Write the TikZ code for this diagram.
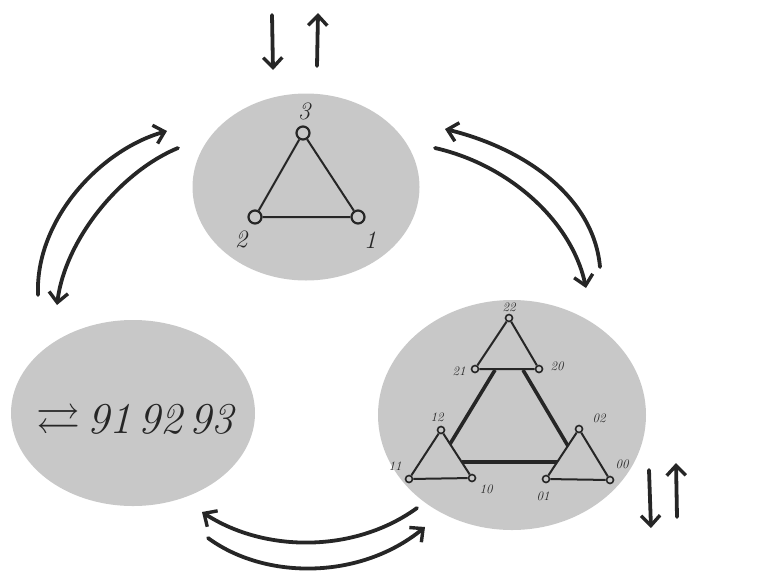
\documentclass[tikz,border=0pt]{standalone}
\usepackage{amssymb}
\usetikzlibrary{arrows.meta,shapes.geometric}
\definecolor{blob}{RGB}{200,200,200}
\definecolor{ink}{RGB}{38,38,38}
\tikzset{
  blobnode/.style={ellipse,fill=blob,draw=none,inner sep=0pt},
  flow/.style={draw=ink,line width=3.8pt,line cap=round,-{Straight Barb[length=10pt,width=19pt,line width=3.4pt]}},
  vtx/.style={circle,draw=ink,line width=2.2pt,minimum size=13pt,inner sep=0pt},
  svtx/.style={circle,draw=ink,line width=1.6pt,minimum size=7pt,inner sep=0pt},
  edge/.style={draw=ink,line width=2pt},
  bigedge/.style={draw=ink,line width=3.6pt},
  biglab/.style={font=\fontsize{25}{25}\selectfont\itshape,text=ink,inner sep=1pt},
  smalllab/.style={font=\fontsize{13}{13}\selectfont\itshape,text=ink,inner sep=1pt}
}
\begin{document}
\begin{tikzpicture}[x=1pt,y=-1pt]
\useasboundingbox (0,0) rectangle (767,571);
% ellipses
\node[blobnode,minimum width=227pt,minimum height=187pt] (top) at (306,187) {};
\node[blobnode,minimum width=244pt,minimum height=186pt] (left) at (133,413) {};
\node[blobnode,minimum width=268pt,minimum height=230pt] (right) at (512,415) {};

% top triangle
\node[vtx] (v3) at (303,133) {};
\node[vtx] (v2) at (255,217) {};
\node[vtx] (v1) at (358,217) {};
\draw[edge] (v3) -- (v2) -- (v1) -- (v3);
\node[biglab] (l3) at (304,111) {3};
\node[biglab] (l2) at (241,239) {2};
\node[biglab] (l1) at (370,240) {1};

% left text
\node[font=\fontsize{44}{44}\selectfont\itshape,text=ink] (num) at (135,423) {$\rightleftarrows$\,91\,92\,93};

% right: small triangles
\node[svtx] (n22) at (509,318) {};
\node[svtx] (n21) at (475,369) {};
\node[svtx] (n20) at (539,369) {};
\node[svtx] (n12) at (441,430) {};
\node[svtx] (n11) at (409,479) {};
\node[svtx] (n10) at (472,478) {};
\node[svtx] (n02) at (579,429) {};
\node[svtx] (n01) at (546,479) {};
\node[svtx] (n00) at (610,480) {};
\draw[edge] (n22) -- (n21) -- (n20) -- (n22);
\draw[edge] (n12) -- (n11) -- (n10) -- (n12);
\draw[edge] (n02) -- (n01) -- (n00) -- (n02);
% big triangle
\coordinate (b1) at (495,370);
\coordinate (b2) at (450,444);
\coordinate (b3) at (523,370);
\coordinate (b4) at (568,446);
\coordinate (b5) at (462,462);
\coordinate (b6) at (557,462);
\draw[bigedge] (b1) -- (b2);
\draw[bigedge] (b3) -- (b4);
\draw[bigedge] (b5) -- (b6);
\node[smalllab] (t22) at (509,307) {22};
\node[smalllab] (t21) at (459,371) {21};
\node[smalllab] (t20) at (557,366) {20};
\node[smalllab] (t12) at (437,417) {12};
\node[smalllab] (t11) at (395,466) {11};
\node[smalllab] (t10) at (486,489) {10};
\node[smalllab] (t02) at (599,418) {02};
\node[smalllab] (t01) at (543,496) {01};
\node[smalllab] (t00) at (622,464) {00};

% top arrows
\coordinate (ta1) at (272,15);
\coordinate (ta2) at (273,70);
\coordinate (tb1) at (317,66);
\coordinate (tb2) at (318,13);
\draw[flow] (ta1) -- (ta2);
\draw[flow] (tb1) -- (tb2);

% bottom right arrows
\coordinate (ra1) at (649,470);
\coordinate (ra2) at (651,528);
\coordinate (rb1) at (677,517);
\coordinate (rb2) at (676,463);
\draw[flow] (ra1) -- (ra2);
\draw[flow] (rb1) -- (rb2);

% left pair
\coordinate (la1) at (38,295);
\coordinate (la2) at (167,131);
\coordinate (lb1) at (178,148);
\coordinate (lb2) at (57,305);
\draw[flow] (la1) .. controls (35,220) and (100,150) .. (la2);
\draw[flow] (lb1) .. controls (120,172) and (65,240) .. (lb2);

% right pair
\coordinate (rr1) at (600,267);
\coordinate (rr2) at (445,129);
\coordinate (rs1) at (435,148);
\coordinate (rs2) at (586,288);
\draw[flow] (rr1) .. controls (594,200) and (530,150) .. (rr2);
\draw[flow] (rs1) .. controls (510,165) and (572,222) .. (rs2);

% bottom pair
\coordinate (ba1) at (417,508);
\coordinate (ba2) at (202,512);
\coordinate (bb1) at (208,538);
\coordinate (bb2) at (425,527);
\draw[flow] (ba1) .. controls (355,553) and (265,553) .. (ba2);
\draw[flow] (bb1) .. controls (265,580) and (360,580) .. (bb2);
\end{tikzpicture}
\end{document}
